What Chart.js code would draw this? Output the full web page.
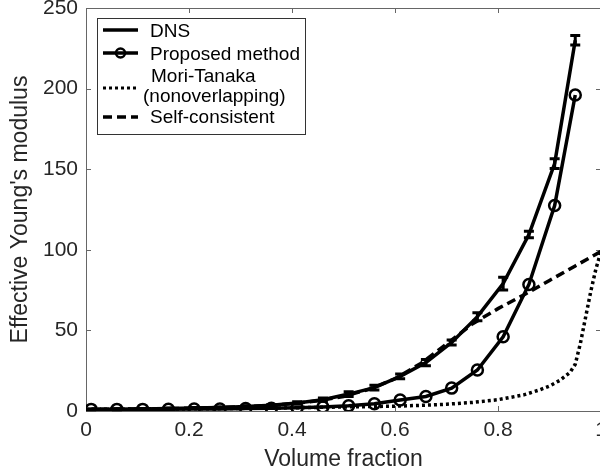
<!DOCTYPE html>
<html>
<head>
<meta charset="utf-8">
<script src="https://cdn.jsdelivr.net/npm/chart.js@4/dist/chart.umd.min.js"></script>
<style>
  html, body { margin: 0; padding: 0; background: #fff; overflow: hidden; }
  #wrap { width: 620px; height: 475px; }
</style>
</head>
<body>
<div id="wrap"><canvas id="youngChart" width="620" height="475"></canvas></div>
<script>
// Об'ємна частка для DNS та запропонованого методу
const fracPoints = [0.01, 0.06, 0.11, 0.16, 0.21, 0.26, 0.31, 0.36, 0.41, 0.46,
                    0.51, 0.56, 0.61, 0.66, 0.71, 0.76, 0.81, 0.86, 0.91, 0.95];
const dnsValues = [1, 1.1, 1.3, 1.5, 1.8, 2.2, 2.8, 3.6, 5, 7,
                   10.5, 14.5, 21.5, 30, 42.5, 58.5, 79, 109.5, 153.5, 230];
const dnsErr = [0.3, 0.3, 0.3, 0.3, 0.3, 0.3, 0.4, 0.5, 0.8, 1,
                1.5, 1.5, 1.5, 2, 1.5, 2.5, 4, 2, 3, 3];
const proposedValues = [1, 1, 1, 1.1, 1.2, 1.3, 1.5, 1.7, 2, 2.5,
                        3.3, 4.5, 6.8, 9, 14.2, 25.4, 46, 78.5, 127.5, 196];

// Аналітичні моделі
const fracModel = [0, 0.05, 0.1, 0.15, 0.2, 0.25, 0.3, 0.35, 0.4, 0.45, 0.5,
                   0.55, 0.6, 0.65, 0.7, 0.75, 0.8, 0.85, 0.9, 0.95, 1.0];
const selfConsistent = [1, 1.1, 1.25, 1.45, 1.7, 2.1, 2.6, 3.4, 4.5, 6.3, 9,
                        13.5, 20, 29.5, 41.5, 54, 63.5, 72, 81, 90, 99];
const fracMori = [0, 0.1, 0.2, 0.3, 0.4, 0.5, 0.6, 0.65, 0.7, 0.75, 0.8,
                  0.85, 0.88, 0.9, 0.92, 0.94, 0.95, 0.96, 0.97, 0.98, 0.99, 1.0];
const moriTanaka = [1, 1.1, 1.3, 1.6, 2, 2.5, 3, 3.5, 4.2, 5.3, 7,
                    10, 13, 15.5, 19, 24, 29, 42, 58, 74, 88, 99];

const xTicks = [0, 0.2, 0.4, 0.6, 0.8, 1];
const yTicks = [0, 50, 100, 150, 200, 250];

const legendLabels = ['DNS', 'Proposed method', 'Mori-Tanaka', '(nonoverlapping)', 'Self-consistent'];

const FONT = '"Liberation Sans", Arial, Helvetica, sans-serif';
const INK = '#262626';

function toPoints(xs, ys) {
    return xs.map((x, i) => ({x: x, y: ys[i]}));
}

/**
 * Рамка осей з рисками всередину (як у Matlab).
 */
const boxPlugin = {
    id: 'box',
    beforeDatasetsDraw(chart) {
        const {ctx, chartArea: a, scales} = chart;
        ctx.save();
        ctx.strokeStyle = '#666';
        ctx.lineWidth = 1;
        ctx.strokeRect(a.left + 0.5, a.top + 0.5, a.right - a.left, a.bottom - a.top);
        ctx.beginPath();
        xTicks.forEach(v => {
            const px = Math.round(scales.x.getPixelForValue(v)) + 0.5;
            ctx.moveTo(px, a.bottom); ctx.lineTo(px, a.bottom - 5);
            ctx.moveTo(px, a.top); ctx.lineTo(px, a.top + 5);
        });
        yTicks.forEach(v => {
            const py = Math.round(scales.y.getPixelForValue(v)) + 0.5;
            ctx.moveTo(a.left, py); ctx.lineTo(a.left + 5, py);
            ctx.moveTo(a.right, py); ctx.lineTo(a.right - 5, py);
        });
        ctx.stroke();
        ctx.restore();
    }
};

/**
 * Планки похибок для DNS.
 */
const errorBarPlugin = {
    id: 'errorBars',
    afterDatasetsDraw(chart) {
        const {ctx, scales} = chart;
        ctx.save();
        ctx.strokeStyle = '#000';
        ctx.lineWidth = 3;
        ctx.lineCap = 'butt';
        fracPoints.forEach((x, i) => {
            const px = scales.x.getPixelForValue(x);
            const top = scales.y.getPixelForValue(dnsValues[i] + dnsErr[i]);
            const bot = scales.y.getPixelForValue(dnsValues[i] - dnsErr[i]);
            ctx.beginPath();
            ctx.moveTo(px, top); ctx.lineTo(px, bot);
            ctx.moveTo(px - 5, top); ctx.lineTo(px + 5, top);
            ctx.moveTo(px - 5, bot); ctx.lineTo(px + 5, bot);
            ctx.stroke();
        });
        ctx.restore();
    }
};

/**
 * Легенда у рамці в лівому верхньому куті.
 */
const legendPlugin = {
    id: 'boxLegend',
    afterDraw(chart) {
        const ctx = chart.ctx;
        ctx.save();
        ctx.fillStyle = '#fff';
        ctx.fillRect(97, 18, 208, 116);
        ctx.strokeStyle = '#333';
        ctx.lineWidth = 1;
        ctx.strokeRect(97.5, 18.5, 208, 116);

        const x0 = 103, x1 = 138;
        ctx.strokeStyle = '#000';
        ctx.lineWidth = 3.5;

        const sample = (y, dash) => {
            ctx.setLineDash(dash);
            ctx.beginPath();
            ctx.moveTo(x0, y); ctx.lineTo(x1, y);
            ctx.stroke();
            ctx.setLineDash([]);
        };
        sample(30, []);
        sample(53, []);
        ctx.lineWidth = 2.5;
        ctx.beginPath();
        ctx.arc((x0 + x1) / 2, 53, 4.5, 0, Math.PI * 2);
        ctx.stroke();
        ctx.lineWidth = 3;
        sample(88, [3, 3]);
        ctx.lineWidth = 3.5;
        sample(117, [9, 5]);

        ctx.fillStyle = '#000';
        ctx.font = '19px ' + FONT;
        ctx.textBaseline = 'alphabetic';
        ctx.textAlign = 'left';
        ctx.fillText(legendLabels[0], 150, 37);
        ctx.fillText(legendLabels[1], 150, 60);
        ctx.fillText(legendLabels[2], 151, 82);
        ctx.fillText(legendLabels[3], 143, 102);
        ctx.fillText(legendLabels[4], 150, 123);
        ctx.restore();
    }
};

function initChart() {
    const ctx = document.getElementById('youngChart').getContext('2d');
    new Chart(ctx, {
        type: 'line',
        data: {
            datasets: [
                {
                    label: 'DNS',
                    data: toPoints(fracPoints, dnsValues),
                    borderColor: '#000',
                    borderWidth: 3.5,
                    pointRadius: 0,
                    tension: 0
                },
                {
                    label: 'Proposed method',
                    data: toPoints(fracPoints, proposedValues),
                    borderColor: '#000',
                    borderWidth: 3.5,
                    pointRadius: 5.5,
                    pointBorderWidth: 2.5,
                    pointBackgroundColor: 'rgba(0,0,0,0)',
                    pointBorderColor: '#000',
                    tension: 0
                },
                {
                    label: 'Mori-Tanaka (nonoverlapping)',
                    data: toPoints(fracMori, moriTanaka),
                    borderColor: '#000',
                    borderWidth: 3.5,
                    borderDash: [3, 3],
                    pointRadius: 0,
                    tension: 0
                },
                {
                    label: 'Self-consistent',
                    data: toPoints(fracModel, selfConsistent),
                    borderColor: '#000',
                    borderWidth: 3.5,
                    borderDash: [9, 5],
                    pointRadius: 0,
                    tension: 0
                }
            ]
        },
        options: {
            responsive: false,
            animation: false,
            layout: { padding: { top: 7, right: 19, left: 0, bottom: 0 } },
            plugins: {
                legend: { display: false },
                tooltip: { enabled: false }
            },
            scales: {
                x: {
                    type: 'linear',
                    min: 0,
                    max: 1,
                    grid: { display: false, drawTicks: false },
                    border: { display: false },
                    afterFit: s => {
                        s.height = 64;
                        s.paddingLeft = 0;
                        s.paddingRight = 0;
                    },
                    afterBuildTicks: s => { s.ticks = xTicks.map(v => ({value: v})); },
                    ticks: {
                        padding: 7,
                        maxRotation: 0,
                        color: INK,
                        font: { family: FONT, size: 21 },
                        callback: v => String(Math.round(v * 10) / 10)
                    },
                    title: {
                        display: true,
                        text: 'Volume fraction',
                        color: INK,
                        padding: { top: 0, bottom: 2 },
                        font: { family: FONT, size: 23 }
                    }
                },
                y: {
                    type: 'linear',
                    min: 0,
                    max: 250,
                    grid: { display: false, drawTicks: false },
                    border: { display: false },
                    afterFit: s => {
                        s.width = 86;
                        s.paddingTop = 0;
                        s.paddingBottom = 0;
                    },
                    afterBuildTicks: s => { s.ticks = yTicks.map(v => ({value: v})); },
                    ticks: {
                        padding: 8,
                        color: INK,
                        font: { family: FONT, size: 21 }
                    },
                    title: {
                        display: true,
                        text: "Effective Young's modulus",
                        color: INK,
                        padding: { top: 7, bottom: 0 },
                        font: { family: FONT, size: 23 }
                    }
                }
            }
        },
        plugins: [boxPlugin, errorBarPlugin, legendPlugin]
    });
}

document.addEventListener('DOMContentLoaded', initChart);
</script>
</body>
</html>
